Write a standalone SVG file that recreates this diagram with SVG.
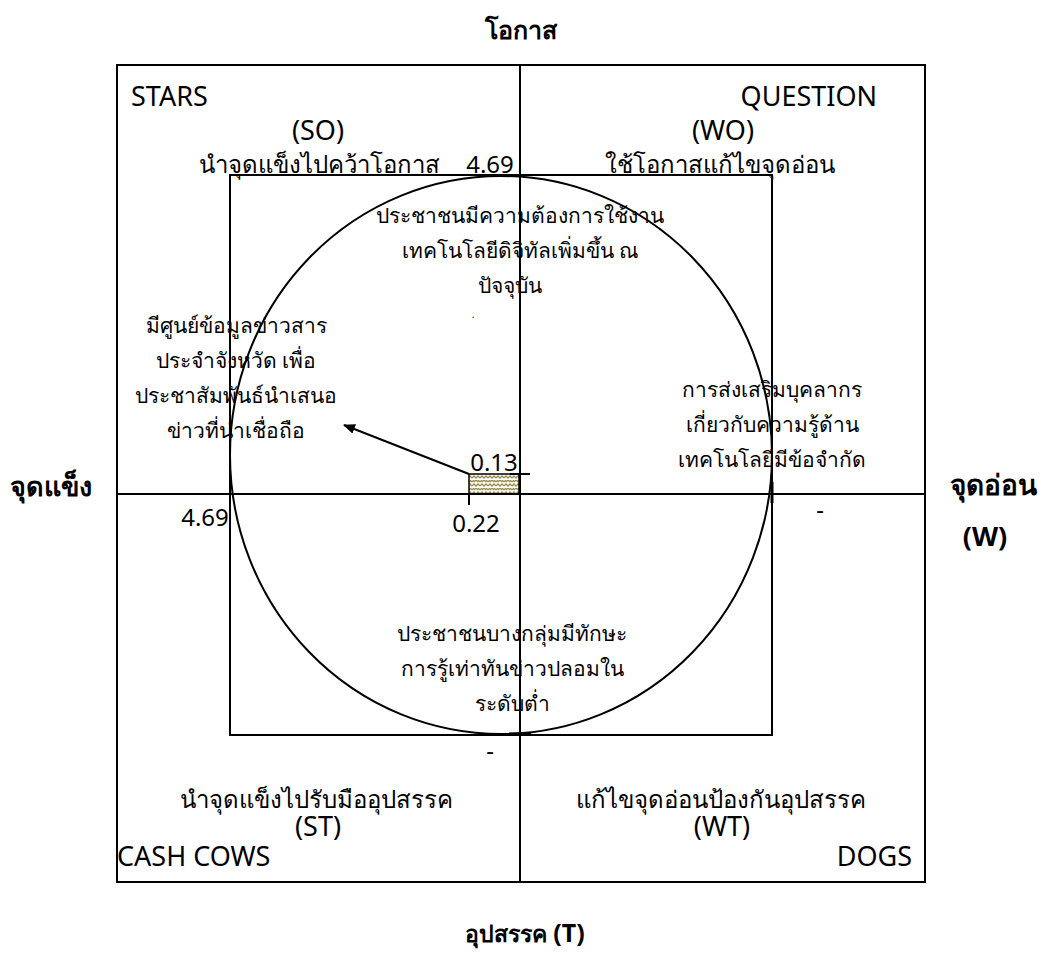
<svg xmlns="http://www.w3.org/2000/svg" width="1045" height="962" viewBox="0 0 1045 962">
<style>
.t{font-family:"Noto Sans","Liberation Sans",sans-serif;font-size:21px;fill:#000;text-anchor:middle}
.q{font-size:24px}
.l{font-size:27px}
.n{font-size:24px}
.s{text-anchor:start}
.e{text-anchor:end}
.b{font-weight:bold;font-size:25px}
.ln{stroke:#000;stroke-width:2;fill:none}
</style>
<defs>
<pattern id="hatch" width="8" height="8" patternUnits="userSpaceOnUse">
<rect width="8" height="8" fill="#fff"/>
<path d="M0 6 L2 4 L4 6 L6 4 L8 6 M0 2 L2 0 M6 0 L8 2 M2 2 L4 0 L6 2" stroke="#9c8c4c" stroke-width="1.3" fill="none"/>
</pattern>
<marker id="arr" markerWidth="12" markerHeight="10" refX="11" refY="5" orient="auto" markerUnits="userSpaceOnUse">
<path d="M0 0 L12 5 L0 10 Z" fill="#000"/>
</marker>
</defs>
<rect width="1045" height="962" fill="#fff"/>

<g id="frame">
<rect x="117" y="65" width="808" height="817" class="ln"/>
<rect x="230" y="175" width="542" height="560" class="ln"/>
<ellipse cx="501" cy="455" rx="271" ry="279" class="ln"/>
<rect x="469" y="474" width="50" height="20" fill="url(#hatch)" stroke="#000" stroke-width="1.5"/>
</g>

<g id="connectors">
<line x1="520" y1="65" x2="520" y2="882" class="ln"/>
<line x1="117" y1="494" x2="925" y2="494" class="ln"/>
<line x1="510" y1="474" x2="530" y2="474" class="ln"/>
<line x1="469" y1="494" x2="469" y2="505" class="ln"/>
<line x1="772" y1="482" x2="772" y2="503" stroke="#000" stroke-width="3"/>
<line x1="509" y1="734" x2="531" y2="734" stroke="#000" stroke-width="3"/>
<line x1="469" y1="474" x2="344" y2="425" class="ln" marker-end="url(#arr)"/>
</g>

<g id="axis-labels">
<text class="t b" x="521" y="39">โอกาส</text>
<text class="t b" x="51" y="496" style="font-size:27px">จุดแข็ง</text>
<text class="t b" x="993" y="495" style="font-size:28px">จุดอ่อน</text>
<text class="t b" x="985" y="546" style="font-size:27px">(W)</text>
<text class="t b" x="525" y="942" style="font-size:23px">อุปสรรค <tspan style="font-size:25px">(T)</tspan></text>
</g>

<g id="quadrant-stars">
<text class="t l s" x="131" y="106">STARS</text>
<text class="t l" x="318" y="140">(SO)</text>
<text class="t q" x="319" y="173">นำจุดแข็งไปคว้าโอกาส</text>
<text class="t n" x="490" y="173">4.69</text>
</g>

<g id="quadrant-question">
<text class="t l e" x="877" y="106">QUESTION</text>
<text class="t l" x="723" y="140">(WO)</text>
<text class="t q" x="720" y="173">ใช้โอกาสแก้ไขจุดอ่อน</text>
</g>

<g id="quadrant-cashcows">
<text class="t q" x="316" y="808">นำจุดแข็งไปรับมืออุปสรรค</text>
<text class="t l" x="318" y="836">(ST)</text>
<text class="t l s" x="117" y="866">CASH COWS</text>
</g>

<g id="quadrant-dogs">
<text class="t q" x="721" y="808">แก้ไขจุดอ่อนป้องกันอุปสรรค</text>
<text class="t l" x="722" y="836">(WT)</text>
<text class="t l e" x="912" y="866">DOGS</text>
</g>

<g id="opportunity">
<text class="t" x="520" y="223">ประชาชนมีความต้องการใช้งาน</text>
<text class="t" x="520" y="258">เทคโนโลยีดิจิทัลเพิ่มขึ้น ณ</text>
<text class="t" x="510" y="293">ปัจจุบัน</text>
<text class="t" x="473" y="318" style="font-size:10px">.</text>
</g>

<g id="strength">
<text class="t" x="236" y="333">มีศูนย์ข้อมูลข่าวสาร</text>
<text class="t" x="236" y="368">ประจำจังหวัด เพื่อ</text>
<text class="t" x="236" y="403">ประชาสัมพันธ์นำเสนอ</text>
<text class="t" x="236" y="438">ข่าวที่น่าเชื่อถือ</text>
</g>

<g id="weakness">
<text class="t" x="772" y="397">การส่งเสริมบุคลากร</text>
<text class="t" x="772" y="432">เกี่ยวกับความรู้ด้าน</text>
<text class="t" x="772" y="467">เทคโนโลยีมีข้อจำกัด</text>
</g>

<g id="threat">
<text class="t" x="512" y="641">ประชาชนบางกลุ่มมีทักษะ</text>
<text class="t" x="512" y="676">การรู้เท่าทันข่าวปลอมใน</text>
<text class="t" x="512" y="711">ระดับต่ำ</text>
</g>

<g id="values">
<text class="t n" x="494" y="471">0.13</text>
<text class="t n" x="476" y="532">0.22</text>
<text class="t n" x="205" y="526">4.69</text>
<text class="t n" x="820" y="518">-</text>
<text class="t n" x="490" y="759">-</text>
</g>
</svg>
